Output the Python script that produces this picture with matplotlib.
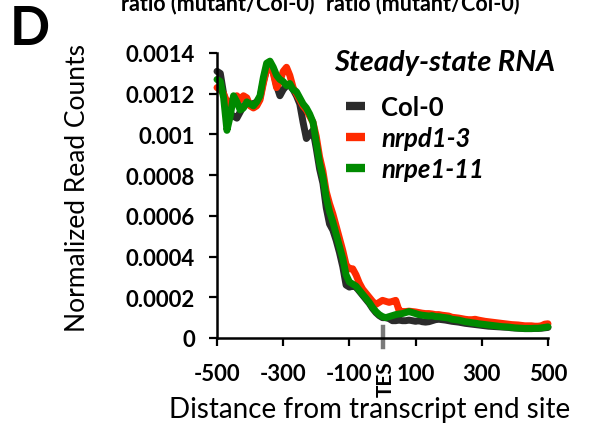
import numpy as np
import matplotlib
matplotlib.use("Agg")
import matplotlib.pyplot as plt

plt.rcParams['font.family'] = ['Lato', 'DejaVu Sans']

positions = np.arange(-500, 501, 10)

col0 = [13.1, 13.0, 12.0, 11.3, 11.0, 10.9, 10.8, 11.1, 11.4, 11.5,
        11.5, 11.5, 11.6, 11.8, 12.6, 13.2, 13.4, 13.1, 12.4, 11.9,
        12.2, 12.4, 12.4, 12.2, 11.9, 11.5, 10.6, 9.8, 10.0, 10.2,
        9.3, 8.3, 7.6, 6.4, 5.6, 5.3, 4.8, 4.2, 3.5, 2.6,
        2.5, 2.55, 2.5, 2.3, 2.1, 1.9, 1.7, 1.45, 1.25, 1.1,
        1.0, 1.0, 0.95, 0.85, 0.85, 0.88, 0.85, 0.85, 0.88, 0.85,
        0.82, 0.85, 0.8, 0.78, 0.8, 0.85, 0.9, 0.92, 0.9, 0.88,
        0.85, 0.82, 0.8, 0.78, 0.75, 0.72, 0.7, 0.68, 0.66, 0.64,
        0.62, 0.6, 0.58, 0.57, 0.56, 0.55, 0.54, 0.53, 0.52, 0.5,
        0.49, 0.48, 0.47, 0.46, 0.46, 0.46, 0.47, 0.47, 0.48, 0.5,
        0.52]

nrpd1_3 = [12.3, 12.2, 12.0, 11.6, 11.5, 11.8, 11.9, 11.7, 11.9, 11.8,
           11.4, 11.3, 11.4, 11.7, 12.5, 13.2, 13.4, 13.0, 12.3, 12.6,
           13.1, 13.3, 12.9, 12.3, 12.0, 11.7, 11.4, 11.2, 10.9, 10.6,
           9.9, 8.9, 8.2, 7.2, 6.6, 6.1, 5.5, 4.9, 4.3, 3.6,
           3.4, 3.4, 3.1, 2.7, 2.4, 2.2, 2.0, 1.8, 1.65, 1.75,
           1.85, 1.8, 1.75, 1.8, 1.85, 1.35, 1.3, 1.3, 1.32, 1.3,
           1.28, 1.25, 1.22, 1.2, 1.2, 1.18, 1.15, 1.15, 1.12, 1.1,
           1.08, 1.02, 1.0, 0.98, 0.95, 0.92, 0.9, 0.9, 0.92, 0.88,
           0.85, 0.82, 0.8, 0.78, 0.76, 0.74, 0.72, 0.7, 0.68, 0.66,
           0.65, 0.64, 0.62, 0.6, 0.6, 0.6, 0.58, 0.58, 0.6, 0.68,
           0.7]

nrpe1_11 = [12.7, 12.6, 11.8, 10.2, 10.9, 11.9, 11.6, 11.2, 11.3, 11.6,
            11.5, 11.4, 11.6, 11.9, 12.8, 13.5, 13.6, 13.3, 12.9, 12.7,
            12.6, 12.4, 12.5, 12.2, 12.1, 11.8, 11.5, 11.3, 11.0, 10.6,
            9.6, 8.6, 7.9, 6.9, 6.2, 5.7, 5.1, 4.5, 3.9, 3.1,
            2.75, 2.65, 2.55, 2.35, 2.15, 1.95, 1.75, 1.5, 1.3, 1.15,
            1.05, 1.0, 1.05, 1.1, 1.15, 1.18, 1.2, 1.25, 1.3, 1.25,
            1.2, 1.15, 1.12, 1.1, 1.08, 1.1, 1.05, 1.05, 1.02, 1.0,
            0.98, 0.92, 0.9, 0.88, 0.84, 0.8, 0.78, 0.75, 0.73, 0.7,
            0.68, 0.66, 0.64, 0.62, 0.6, 0.58, 0.56, 0.55, 0.54, 0.52,
            0.5, 0.49, 0.48, 0.47, 0.47, 0.47, 0.48, 0.48, 0.5, 0.52,
            0.55]

series = [("Col-0", col0, "#2b2b2b", "normal"),
          ("nrpd1-3", nrpd1_3, "#ff2a00", "italic"),
          ("nrpe1-11", nrpe1_11, "#008a00", "italic")]

xticks = [-500, -300, -100, 100, 300, 500]
yticks = [0, 0.0002, 0.0004, 0.0006, 0.0008, 0.001, 0.0012, 0.0014]
ytick_labels = ["0", "0.0002", "0.0004", "0.0006", "0.0008", "0.001", "0.0012", "0.0014"]

W, H = 595, 427
fig = plt.figure(figsize=(W / 100, H / 100), dpi=100)
ax = fig.add_axes([217 / W, 1 - 339 / H, 331 / W, 285 / H])

for name, vals, color, style in series:
    ax.plot(positions, np.array(vals) * 1e-4, color=color, lw=5.0,
            solid_capstyle='round', solid_joinstyle='round', label=name, clip_on=False)

ax.set_xlim(-500, 500)
ax.set_ylim(0, 0.0014)
ax.set_xticks(xticks)
ax.set_xticklabels([str(t) for t in xticks], fontsize=16, fontweight='bold')
ax.set_yticks(yticks)
ax.set_yticklabels(ytick_labels, fontsize=16, fontweight='bold')
ax.tick_params(direction='out', length=6, width=1.6)
ax.tick_params(axis='x', pad=12)
ax.tick_params(axis='y', pad=10)
for s in ['top', 'right']:
    ax.spines[s].set_visible(False)
for s in ['left', 'bottom']:
    ax.spines[s].set_linewidth(1.8)

ax.set_xlabel("Distance from transcript end site", fontsize=20)
ax.xaxis.set_label_coords(0.462, -0.205)
ax.set_ylabel("Normalized Read Counts", fontsize=19)
ax.yaxis.set_label_coords(-0.385, 0.53)

# TES marker
ax.axvline(0, ymin=-0.032, ymax=0.039, color='#7a7a7a', lw=3.2, clip_on=False)
ax.text(0.5 + 3 / 331, -0.078, "TES", transform=ax.transAxes, rotation=90,
        ha='center', va='top', fontsize=15, fontweight='bold')

leg = ax.legend(loc='upper left', bbox_to_anchor=(346 / W, 1 - 96 / H),
                bbox_transform=fig.transFigure, frameon=False,
                borderpad=0, borderaxespad=0,
                handlelength=0.72, handletextpad=0.65, labelspacing=0.28,
                prop={'size': 18.5, 'weight': 'bold'})
for txt, (_, _, _, style) in zip(leg.get_texts(), series):
    txt.set_fontstyle(style)
for line in leg.get_lines():
    line.set_linewidth(6)
    line.set_solid_capstyle('butt')

fig.text(334 / W, 1 - 63 / H, "Steady-state RNA", fontsize=21, fontweight='bold',
         fontstyle='italic', ha='left', va='center')

fig.text(10 / W, 1 - 5 / H, "D", fontsize=38, fontweight='bold', va='top', ha='left')
fig.text(218 / W, 1 - 10 / H, "ratio (mutant/Col-0)", fontsize=15.5, fontweight='bold',
         ha='center', va='baseline')
fig.text(423 / W, 1 - 10 / H, "ratio (mutant/Col-0)", fontsize=15.5, fontweight='bold',
         ha='center', va='baseline')

fig.savefig("out.png", dpi=100)
